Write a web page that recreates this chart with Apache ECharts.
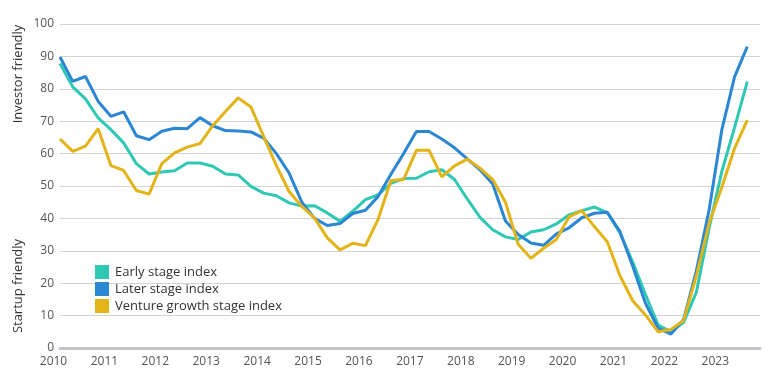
<!DOCTYPE html>
<html>
<head>
<meta charset="utf-8">
<script src="https://cdn.jsdelivr.net/npm/echarts@6/dist/echarts.min.js"></script>
<style>
html,body{margin:0;padding:0;background:#fff;}
#c{width:773px;height:387px;}
</style>
</head>
<body>
<div id="c"></div>
<script>
// Quarterly categories 2010 Q1 .. 2023 Q4
const years = ['2010','2011','2012','2013','2014','2015','2016','2017','2018','2019','2020','2021','2022','2023'];
const quarterNames = ['Q1','Q2','Q3','Q4'];
const categories = [];
years.forEach(y => quarterNames.forEach(q => categories.push(y + ' ' + q)));

const seriesNames = ['Early stage index', 'Later stage index', 'Venture growth stage index'];

const earlyStage = [
  87.8, 80.6, 76.9, 71.0, 67.4, 63.3, 56.9, 53.7,
  54.3, 54.7, 57.1, 57.1, 56.1, 53.7, 53.4, 49.9,
  47.8, 47.0, 44.8, 43.8, 43.9, 41.7, 39.1, 42.2,
  45.8, 47.3, 50.8, 52.3, 52.4, 54.4, 55.0, 52.0,
  46.0, 40.3, 36.5, 34.3, 33.5, 35.8, 36.5, 38.3,
  41.1, 42.4, 43.5, 41.8, 35.5, 26.5, 16.5, 7.1,
  5.0, 7.9, 17.2, 37.0, 54.5, 68.0, 82.2
];
const laterStage = [
  89.8, 82.3, 83.8, 76.1, 71.5, 72.9, 65.5, 64.3,
  66.9, 67.8, 67.7, 71.1, 68.6, 67.1, 67.0, 66.7,
  64.8, 60.0, 54.0, 45.0, 40.0, 37.8, 38.4, 41.5,
  42.5, 46.8, 53.6, 60.0, 66.8, 66.8, 64.5, 61.8,
  58.4, 55.0, 50.6, 39.2, 35.0, 32.4, 31.7, 35.2,
  37.1, 40.2, 41.6, 41.9, 35.9, 25.2, 13.8, 6.1,
  4.3, 8.8, 23.8, 42.6, 67.3, 83.7, 93.0
];
const ventureGrowth = [
  64.5, 60.7, 62.3, 67.7, 56.3, 54.8, 48.6, 47.5,
  56.9, 60.2, 62.0, 63.1, 68.6, 73.0, 77.2, 74.4,
  65.3, 56.3, 48.3, 43.7, 40.1, 34.0, 30.3, 32.3,
  31.6, 39.8, 51.7, 52.0, 61.0, 61.0, 52.8, 56.2,
  58.3, 55.5, 52.0, 45.0, 32.0, 27.7, 30.8, 33.5,
  40.5, 42.4, 37.4, 32.8, 22.3, 14.6, 10.2, 5.0,
  5.7, 8.5, 22.3, 38.5, 49.6, 61.6, 70.3
];

const colors = ['#2ec8b4', '#2b87d3', '#e3b418'];
const FONT = "'Open Sans', sans-serif";

const chart = echarts.init(document.getElementById('c'), null, {renderer: 'canvas'});
chart.setOption({
  animation: false,
  backgroundColor: '#ffffff',
  color: colors,
  grid: {left: 60, right: 13, top: 24, bottom: 39, containLabel: false},
  legend: {
    orient: 'vertical',
    left: 90,
    top: 260,
    itemWidth: 14,
    itemHeight: 14,
    itemGap: 3,
    icon: 'rect',
    data: seriesNames,
    textStyle: {fontFamily: FONT, fontSize: 13, color: '#333', padding: [0, 0, 0, 1]}
  },
  xAxis: {
    type: 'category',
    data: categories,
    boundaryGap: false,
    axisLine: {show: true, lineStyle: {color: '#c2c6cc', width: 3}},
    axisTick: {show: false},
    splitLine: {show: false},
    axisLabel: {
      interval: (idx) => idx % 4 === 0,
      margin: 8,
      formatter: (v) => '{a|' + v.slice(0, 4) + '}',
      rich: {a: {fontFamily: FONT, fontSize: 12, color: '#555', padding: [0, 13, 0, 0]}}
    }
  },
  yAxis: {
    type: 'value',
    min: 0,
    max: 100,
    interval: 10,
    axisLine: {show: false},
    axisTick: {show: false},
    axisLabel: {fontFamily: FONT, fontSize: 12, color: '#555', margin: 6},
    splitLine: {lineStyle: {color: '#d3d3d3', width: 1}}
  },
  graphic: [
    {type: 'text', x: 18, y: 74, rotation: Math.PI / 2,
     style: {text: 'Investor friendly', font: "13px 'Open Sans', sans-serif", fill: '#333', align: 'center', verticalAlign: 'middle'}},
    {type: 'text', x: 18, y: 286, rotation: Math.PI / 2,
     style: {text: 'Startup friendly', font: "13px 'Open Sans', sans-serif", fill: '#333', align: 'center', verticalAlign: 'middle'}}
  ],
  series: [
    {name: seriesNames[0], type: 'line', data: earlyStage, showSymbol: false, smooth: false, lineStyle: {width: 3}},
    {name: seriesNames[1], type: 'line', data: laterStage, showSymbol: false, smooth: false, lineStyle: {width: 3}},
    {name: seriesNames[2], type: 'line', data: ventureGrowth, showSymbol: false, smooth: false, lineStyle: {width: 3}}
  ]
});
</script>
</body>
</html>
